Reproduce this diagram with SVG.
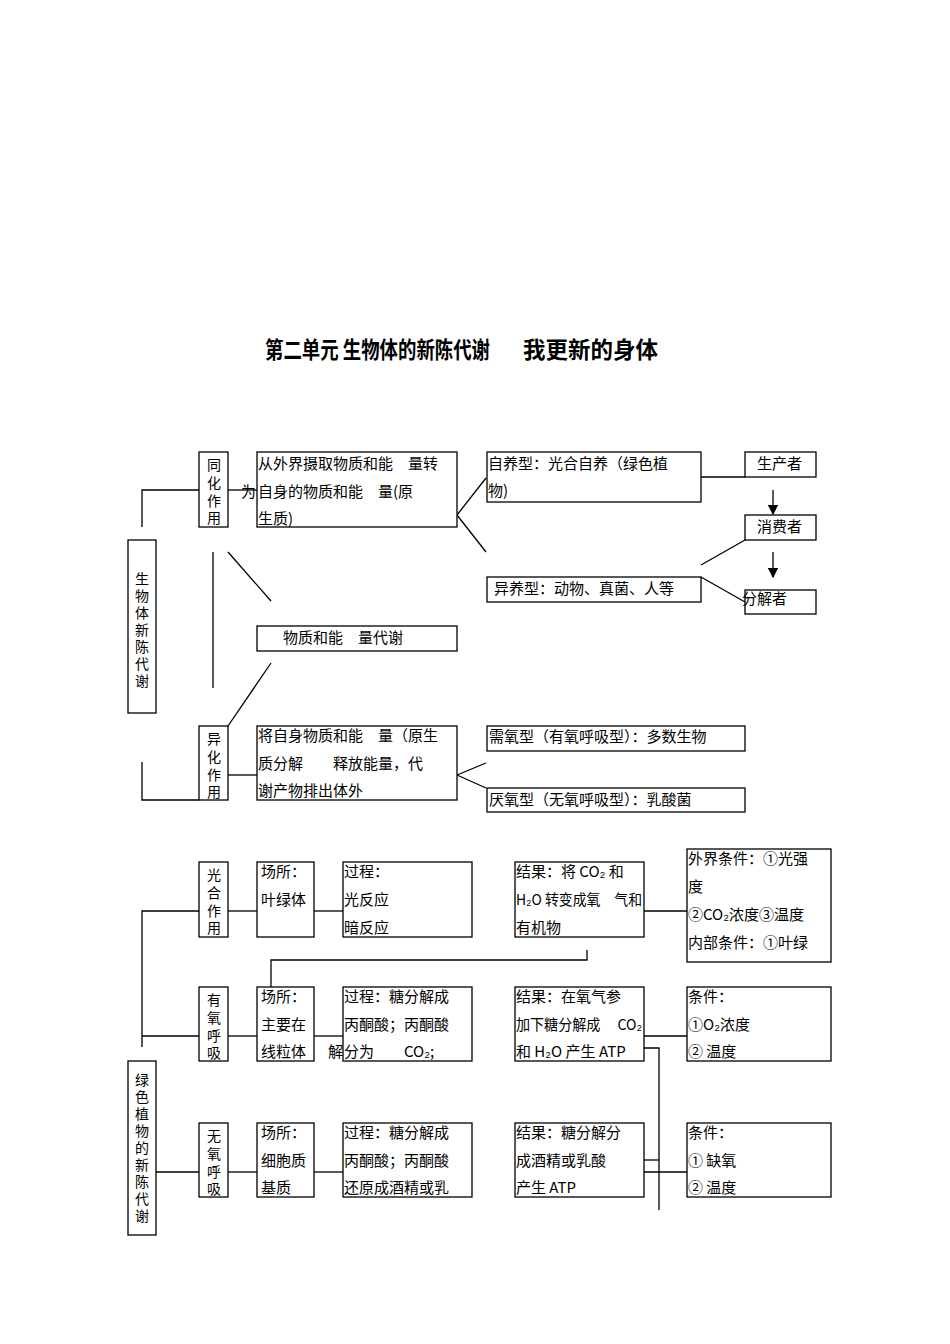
<svg xmlns="http://www.w3.org/2000/svg" width="950" height="1344" viewBox="0 0 950 1344">
<style>
rect{fill:#fff;stroke:#000;stroke-width:1.3}
line,polyline{stroke:#000;stroke-width:1.3;fill:none}
text{font-family:"Noto Sans CJK SC","Liberation Sans",sans-serif;font-size:15px;fill:#000}
.t{font-size:23px;font-weight:bold}
.v{font-size:14px}
</style>
<defs><marker id="a" markerWidth="8" markerHeight="8" refX="7" refY="4" orient="auto"><path d="M0,0L8,4L0,8z" fill="#000"/></marker></defs>
<rect x="0" y="0" width="950" height="1344" style="stroke:none"/>
<text class="t" x="265" y="358" textLength="225" lengthAdjust="spacingAndGlyphs">第二单元 生物体的新陈代谢</text>
<text class="t" x="523" y="358" textLength="135" lengthAdjust="spacingAndGlyphs">我更新的身体</text>
<g id="connectors">
<polyline points="142,527 142,490 199,490"/>
<line x1="228" y1="490" x2="257" y2="490"/>
<line x1="213" y1="552" x2="213" y2="688"/>
<line x1="228" y1="552" x2="271" y2="601"/>
<line x1="271" y1="663" x2="228" y2="726"/>
<polyline points="142,762 142,800 199,800"/>
<line x1="228" y1="775" x2="257" y2="775"/>
<line x1="457" y1="515" x2="486" y2="478"/>
<line x1="457" y1="515" x2="486" y2="552"/>
<line x1="701" y1="477" x2="745" y2="477"/>
<line x1="773" y1="490" x2="773" y2="514" marker-end="url(#a)"/>
<line x1="773" y1="552" x2="773" y2="577" marker-end="url(#a)"/>
<line x1="701" y1="565" x2="745" y2="540"/>
<line x1="701" y1="577" x2="745" y2="602"/>
<line x1="457" y1="775" x2="486" y2="763"/>
<line x1="457" y1="775" x2="486" y2="788"/>
<polyline points="142,1047 142,911 199,911"/>
<line x1="228" y1="911" x2="257" y2="911"/>
<line x1="314" y1="911" x2="343" y2="911"/>
<line x1="644" y1="911" x2="687" y2="911"/>
<polyline points="587,950 587,960 271,960 271,987"/>
<line x1="142" y1="1036" x2="199" y2="1036"/>
<line x1="228" y1="1036" x2="257" y2="1036"/>
<line x1="314" y1="1036" x2="343" y2="1036"/>
<line x1="644" y1="1036" x2="687" y2="1036"/>
<polyline points="644,1048 659,1048 659,1210"/>
<line x1="156" y1="1172" x2="199" y2="1172"/>
<line x1="228" y1="1172" x2="257" y2="1172"/>
<line x1="314" y1="1172" x2="343" y2="1172"/>
<line x1="644" y1="1160" x2="659" y2="1160"/>
<line x1="644" y1="1172" x2="687" y2="1172"/>
</g>
<g id="tonghua"><rect x="199" y="452" width="29" height="75"/><text class="v" x="207" y="470">同<tspan x="207" dy="18">化</tspan><tspan x="207" dy="18">作</tspan><tspan x="207" dy="17">用</tspan></text></g>
<g id="boxA"><rect x="257" y="452" width="200" height="75"/><text x="258" y="469">从外界摄取物质和能　量转</text><text x="241" y="497">为</text><text x="258" y="497">自身的物质和能　量(原</text><text x="258" y="524">生质)</text></g>
<g id="root1"><rect x="128" y="540" width="28" height="173"/><text class="v" x="135" y="584">生<tspan x="135" dy="17">物</tspan><tspan x="135" dy="17">体</tspan><tspan x="135" dy="17">新</tspan><tspan x="135" dy="17">陈</tspan><tspan x="135" dy="17">代</tspan><tspan x="135" dy="17">谢</tspan></text></g>
<g id="wuzhi"><rect x="257" y="626" width="200" height="25"/><text x="283" y="643">物质和能　量代谢</text></g>
<g id="yihua"><rect x="199" y="726" width="29" height="74"/><text class="v" x="207" y="744">异<tspan x="207" dy="18">化</tspan><tspan x="207" dy="18">作</tspan><tspan x="207" dy="17">用</tspan></text></g>
<g id="boxB"><rect x="257" y="726" width="200" height="74"/><text x="258" y="741">将自身物质和能　量（原生</text><text x="258" y="769">质分解　　释放能量，代</text><text x="258" y="796">谢产物排出体外</text></g>
<g id="ziyang"><rect x="487" y="452" width="214" height="50"/><text x="488" y="469">自养型：光合自养（绿色植</text><text x="488" y="496">物)</text></g>
<g id="sc"><rect x="745" y="452" width="71" height="25"/><text x="757" y="469">生产者</text></g>
<g id="xf"><rect x="745" y="515" width="71" height="25"/><text x="757" y="532">消费者</text></g>
<g id="yiyang"><rect x="487" y="577" width="214" height="25"/><text x="494" y="594">异养型：动物、真菌、人等</text></g>
<g id="fj"><rect x="745" y="590" width="71" height="24"/><text x="742" y="604">分解者</text></g>
<g id="xuyang"><rect x="487" y="726" width="258" height="25"/><text x="489" y="742">需氧型（有氧呼吸型）：多数生物</text></g>
<g id="yanyang"><rect x="487" y="788" width="258" height="24"/><text x="489" y="805">厌氧型（无氧呼吸型）：乳酸菌</text></g>
<g id="gh"><rect x="199" y="862" width="29" height="75"/><text class="v" x="207" y="880">光<tspan x="207" dy="18">合</tspan><tspan x="207" dy="18">作</tspan><tspan x="207" dy="17">用</tspan></text></g>
<g id="gh1"><rect x="257" y="862" width="57" height="75"/><text x="261" y="877">场所：</text><text x="261" y="905">叶绿体</text></g>
<g id="gh2"><rect x="343" y="862" width="129" height="75"/><text x="344" y="877">过程：</text><text x="344" y="905">光反应</text><text x="344" y="933">暗反应</text></g>
<g id="gh3"><rect x="515" y="862" width="129" height="75"/><text x="516" y="877">结果：将 CO₂ 和</text><text x="516" y="905" textLength="126" lengthAdjust="spacingAndGlyphs">H₂O 转变成氧　气和</text><text x="516" y="933">有机物</text></g>
<g id="gh4"><rect x="687" y="849" width="144" height="113"/><text x="688" y="864">外界条件：①光强</text><text x="688" y="892">度</text><text x="688" y="920">②CO₂浓度③温度</text><text x="688" y="948">内部条件：①叶绿</text></g>
<g id="yy"><rect x="199" y="987" width="29" height="74"/><text class="v" x="207" y="1005">有<tspan x="207" dy="18">氧</tspan><tspan x="207" dy="18">呼</tspan><tspan x="207" dy="17">吸</tspan></text></g>
<g id="yy1"><rect x="257" y="987" width="57" height="74"/><text x="261" y="1002">场所：</text><text x="261" y="1030">主要在</text><text x="261" y="1057">线粒体</text></g>
<g id="yy2"><rect x="343" y="987" width="129" height="74"/><text x="344" y="1002">过程：糖分解成</text><text x="344" y="1030">丙酮酸；丙酮酸</text><text x="328" y="1057">解</text><text x="344" y="1057">分为　　CO₂;</text></g>
<g id="yy3"><rect x="515" y="987" width="129" height="74"/><text x="516" y="1002">结果：在氧气参</text><text x="516" y="1030" textLength="126" lengthAdjust="spacingAndGlyphs">加下糖分解成　 CO₂</text><text x="516" y="1057">和 H₂O 产生 ATP</text></g>
<g id="yy4"><rect x="687" y="987" width="144" height="74"/><text x="688" y="1002">条件：</text><text x="688" y="1030">①O₂浓度</text><text x="688" y="1057">② 温度</text></g>
<g id="root2"><rect x="128" y="1061" width="28" height="174"/><text class="v" x="135" y="1085">绿<tspan x="135" dy="17">色</tspan><tspan x="135" dy="17">植</tspan><tspan x="135" dy="17">物</tspan><tspan x="135" dy="17">的</tspan><tspan x="135" dy="17">新</tspan><tspan x="135" dy="17">陈</tspan><tspan x="135" dy="17">代</tspan><tspan x="135" dy="17">谢</tspan></text></g>
<g id="wy"><rect x="199" y="1123" width="29" height="74"/><text class="v" x="207" y="1141">无<tspan x="207" dy="18">氧</tspan><tspan x="207" dy="18">呼</tspan><tspan x="207" dy="17">吸</tspan></text></g>
<g id="wy1"><rect x="257" y="1123" width="57" height="74"/><text x="261" y="1138">场所：</text><text x="261" y="1166">细胞质</text><text x="261" y="1193">基质</text></g>
<g id="wy2"><rect x="343" y="1123" width="129" height="74"/><text x="344" y="1138">过程：糖分解成</text><text x="344" y="1166">丙酮酸；丙酮酸</text><text x="344" y="1193">还原成酒精或乳</text></g>
<g id="wy3"><rect x="515" y="1123" width="129" height="74"/><text x="516" y="1138">结果：糖分解分</text><text x="516" y="1166">成酒精或乳酸</text><text x="516" y="1193">产生 ATP</text></g>
<g id="wy4"><rect x="687" y="1123" width="144" height="74"/><text x="688" y="1138">条件：</text><text x="688" y="1166">① 缺氧</text><text x="688" y="1193">② 温度</text></g>
</svg>
